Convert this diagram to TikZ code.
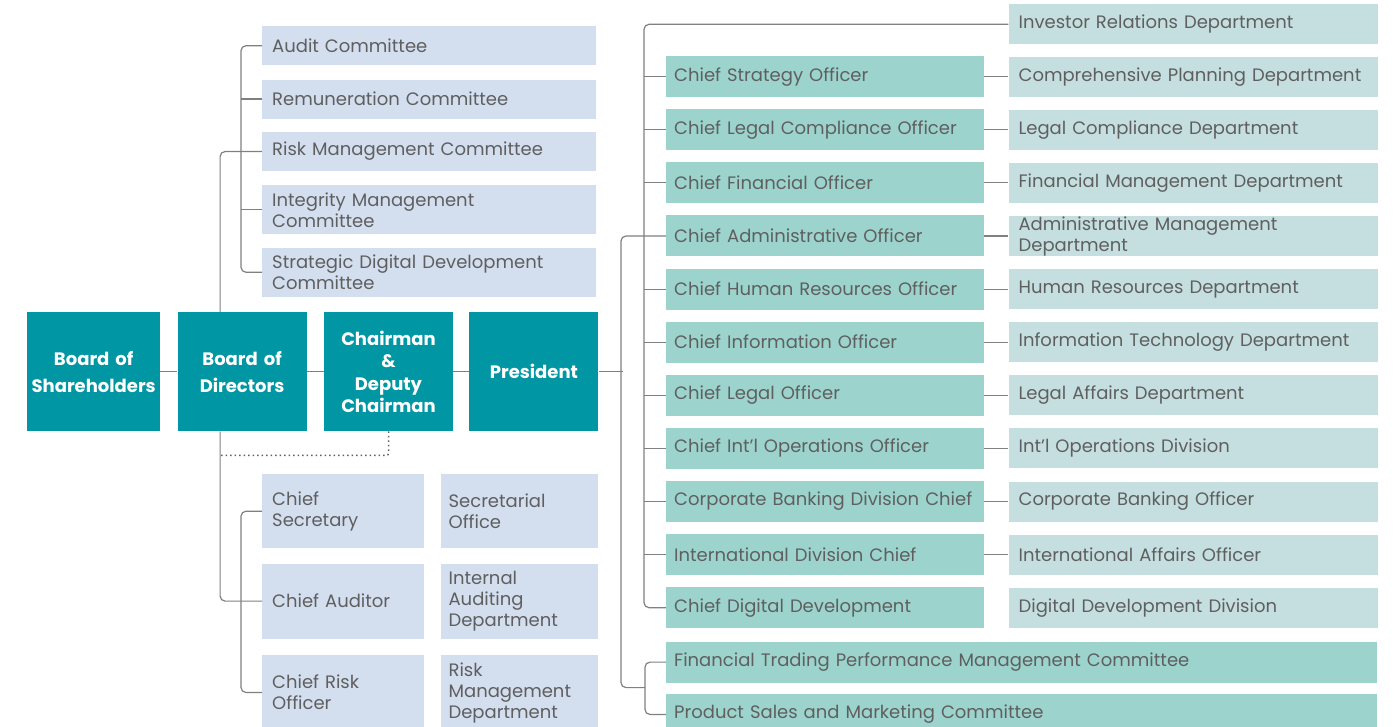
\documentclass[tikz,border=0pt]{standalone}
\usepackage{fontspec}
\setmainfont{Poppins}
\usetikzlibrary{positioning}

\definecolor{boardteal}{RGB}{0,150,163}
\definecolor{cmtblue}{RGB}{211,222,239}
\definecolor{offteal}{RGB}{156,212,205}
\definecolor{deptgray}{RGB}{197,223,224}
\definecolor{txtgray}{RGB}{95,95,95}
\definecolor{linegray}{RGB}{128,128,128}

\tikzset{
  board/.style={fill=boardteal, text=white, font=\bfseries\fontsize{18}{27}\selectfont,
    align=center, text width=#1, inner xsep=0pt, minimum height=119pt},
  box/.style={inner xsep=10pt, inner ysep=0pt, align=left, text=txtgray,
    font=\fontsize{18}{21}\selectfont},
  cmt/.style={box, fill=cmtblue, text width=314pt, minimum height=39pt},
  officer/.style={box, fill=offteal, inner xsep=8pt, text width=302pt, minimum height=41pt},
  dept/.style={box, fill=deptgray, text width=349pt, minimum height=40pt},
  link/.style={draw=linegray, line width=1.2pt, rounded corners=5pt}
}

\begin{document}
\begin{tikzpicture}[x=1pt, y=1pt]
  \useasboundingbox (0,0) rectangle (1394,-727);

  % top of the chart
  \node[board=133pt, anchor=north west] (bos) at (27,-312) {Board of\\Shareholders};
  \node[board=129pt, right=17pt of bos] (bod) {Board of\\Directors};
  \node[board=129pt, right=17pt of bod, font=\bfseries\fontsize{18}{22.5}\selectfont] (chair) {Chairman\\\&\\Deputy\\Chairman};
  \node[board=129pt, right=16pt of chair] (pres) {President};

  % board committees
  \node[cmt, anchor=north west] (audit) at (262,-26) {Audit Committee};
  \node[cmt, below=14pt of audit] (remun) {Remuneration Committee};
  \node[cmt, below=13pt of remun] (riskc) {Risk Management Committee};
  \node[cmt, below=14pt of riskc, minimum height=49pt] (integ) {Integrity Management\\Committee};
  \node[cmt, below=13pt of integ, minimum height=49pt] (digc) {Strategic Digital Development\\Committee};

  % offices under the board
  \node[cmt, text width=142pt, minimum height=74pt, anchor=north west] (csec) at (262,-474) {Chief\\Secretary};
  \node[cmt, inner xsep=8pt, text width=141pt, minimum height=74pt, right=16pt of csec] (secoff) {Secretarial\\Office};
  \node[cmt, text width=142pt, minimum height=75pt, below=15pt of csec] (caud) {Chief Auditor};
  \node[cmt, inner xsep=8pt, text width=141pt, minimum height=75pt, right=16pt of caud] (iad) {Internal\\Auditing\\Department};
  \node[cmt, text width=142pt, minimum height=75pt, below=16pt of caud] (cro) {Chief Risk\\Officer};
  \node[cmt, inner xsep=8pt, text width=141pt, minimum height=75pt, right=16pt of cro] (rmd) {Risk\\Management\\Department};

  % officers under the president
  \node[officer, anchor=north west] (cso) at (666,-56) {Chief Strategy Officer};
  \node[officer, below=11.7pt of cso] (clco) {Chief Legal Compliance Officer};
  \node[officer, below=11.7pt of clco] (cfo) {Chief Financial Officer};
  \node[officer, below=11.7pt of cfo] (cao) {Chief Administrative Officer};
  \node[officer, below=11.7pt of cao] (chro) {Chief Human Resources Officer};
  \node[officer, below=11.7pt of chro] (cio) {Chief Information Officer};
  \node[officer, below=11.7pt of cio] (clo) {Chief Legal Officer};
  \node[officer, below=11.7pt of clo] (cioo) {Chief Int'l Operations Officer};
  \node[officer, below=11.7pt of cioo] (cbdc) {Corporate Banking Division Chief};
  \node[officer, below=11.7pt of cbdc] (idc) {International Division Chief};
  \node[officer, below=11.7pt of idc] (cdd) {Chief Digital Development};

  % departments
  \node[dept, right=24pt of cso] (cpd) {Comprehensive Planning Department};
  \node[dept, above=12pt of cpd] (ird) {Investor Relations Department};
  \node[dept, right=24pt of clco] (lcd) {Legal Compliance Department};
  \node[dept, right=24pt of cfo] (fmd) {Financial Management Department};
  \node[dept, right=24pt of cao] (amd) {Administrative Management\\Department};
  \node[dept, right=24pt of chro] (hrd) {Human Resources Department};
  \node[dept, right=24pt of cio] (itd) {Information Technology Department};
  \node[dept, right=24pt of clo] (lad) {Legal Affairs Department};
  \node[dept, right=24pt of cioo] (iod) {Int'l Operations Division};
  \node[dept, right=24pt of cbdc] (cbo) {Corporate Banking Officer};
  \node[dept, right=24pt of idc] (iao) {International Affairs Officer};
  \node[dept, right=24pt of cdd] (ddd) {Digital Development Division};

  % management committees
  \node[officer, text width=695pt, below=13pt of cdd.south west, anchor=north west] (ftpmc) {Financial Trading Performance Management Committee};
  \node[officer, text width=695pt, below=11pt of ftpmc] (psmc) {Product Sales and Marketing Committee};

  % connectors
  \draw[link] (bos) -- (bod) (bod) -- (chair) (chair) -- (pres);
  \draw[link] (audit.west) -- ++(-21pt,0) |- (digc.west);
  \foreach \c in {remun, integ}
    \draw[link] (\c.west) -- ++(-21pt,0);
  \draw[link] ([xshift=-22pt]bod.north) |- (riskc.west);

  \draw[link] (csec.west) -- ++(-21pt,0) |- (cro.west);
  \draw[link] ([xshift=-22pt]bod.south) |- (caud.west);
  \draw[link, draw=txtgray, line width=1.5pt, dash pattern=on 1.5pt off 3pt, rounded corners=2pt]
    (chair.south) |- ([xshift=-22pt,yshift=-24pt]bod.south);

  \draw[link] (pres.east) -- ++(24pt,0);
  \draw[link] (ird.west) -| ([xshift=-22pt]cdd.west) -- (cdd.west);
  \foreach \o in {cso, clco, cfo, chro, cio, clo, cioo, cbdc, idc}
    \draw[link] (\o.west) -- ++(-22pt,0);
  \draw[link] (ftpmc.west) -- ++(-21pt,0) -- ++(0,-25.5pt) coordinate (cm) |- (psmc.west);
  \draw[link] (cao.west) -- ++(-45pt,0) |- (cm);

  \foreach \o/\d in {cso/cpd, clco/lcd, cfo/fmd, cao/amd, chro/hrd, cio/itd,
                     clo/lad, cioo/iod, cbdc/cbo, idc/iao}
    \draw[link] (\o) -- (\d);
\end{tikzpicture}
\end{document}
